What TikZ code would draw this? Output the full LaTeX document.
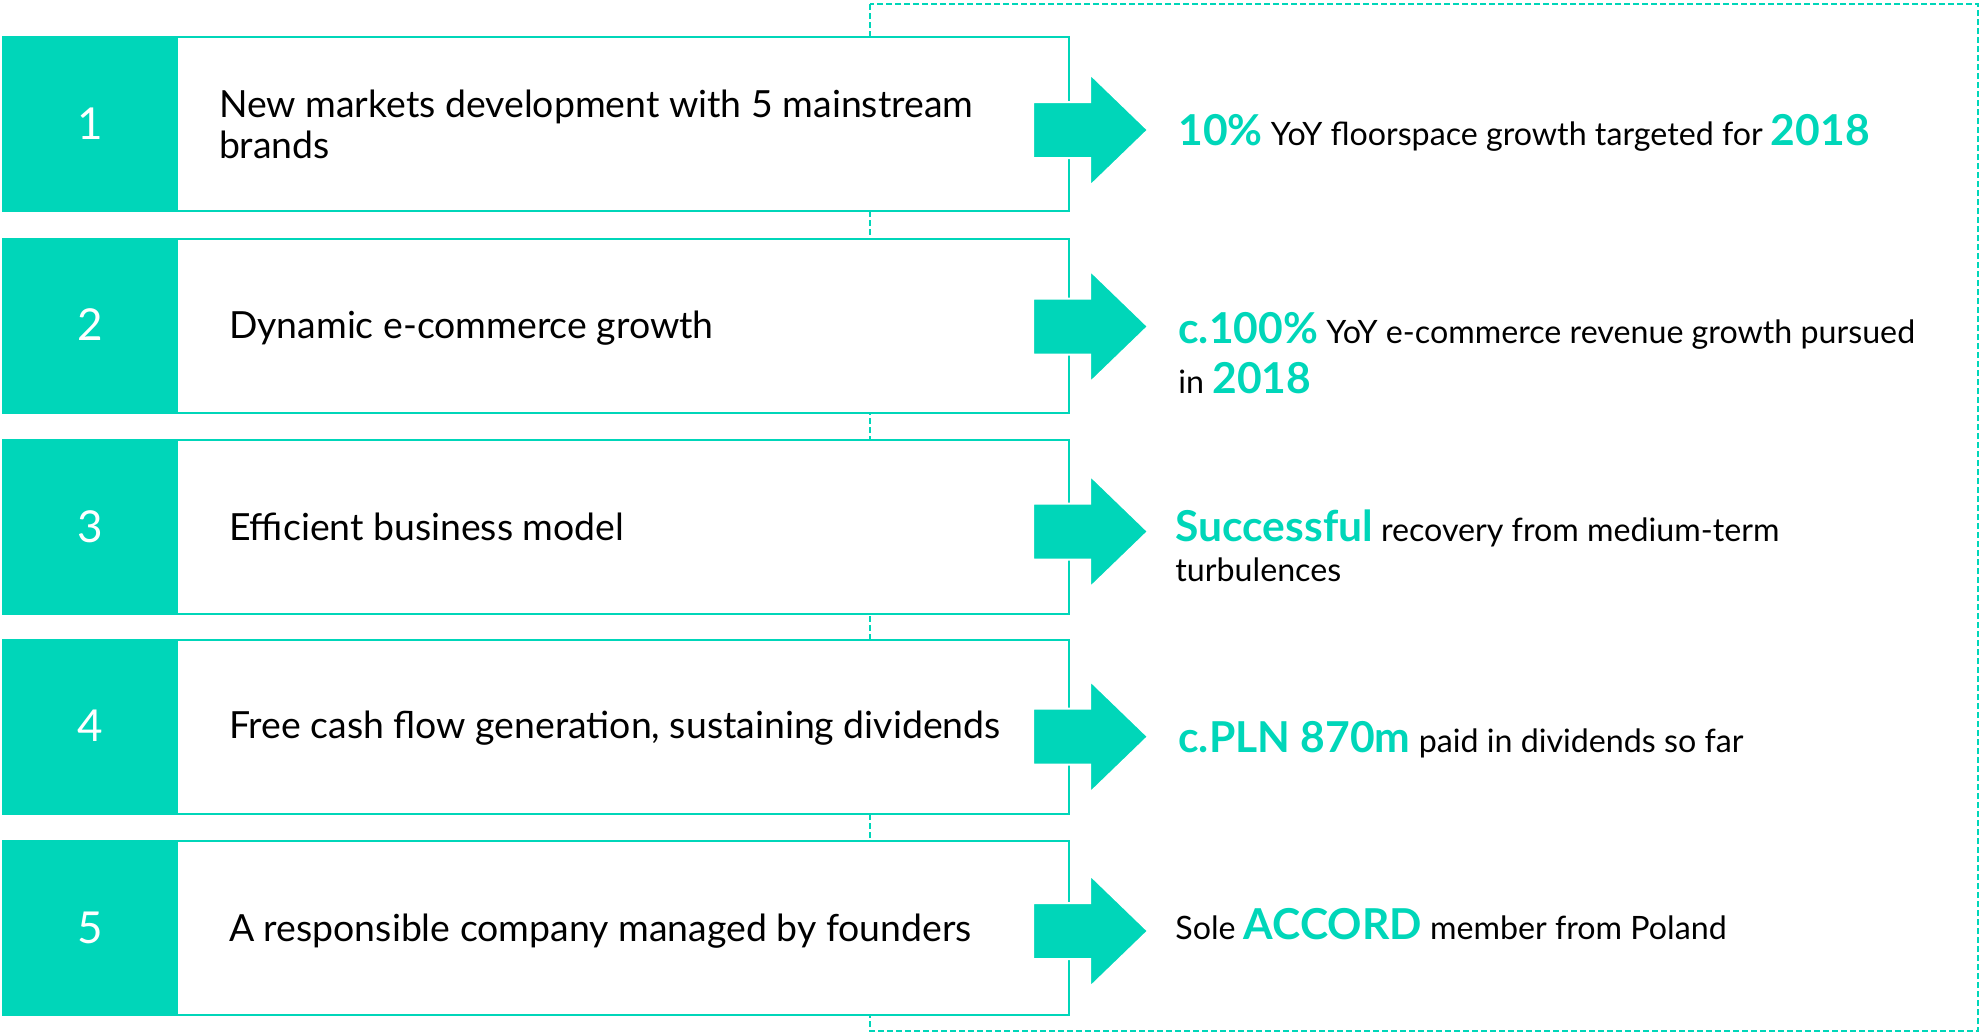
\documentclass[tikz,border=0pt]{standalone}
\usepackage{fontspec}
\setmainfont{Lato}
\definecolor{acc}{RGB}{0,214,185}
\newcommand{\tlines}[3]{\vtop{\baselineskip=#1\lineskiplimit=-100pt\hbox{#2}\hbox{#3}}}
\newcommand{\hl}[1]{{\fontsize{21.3pt}{24pt}\selectfont\bfseries\color{acc}#1}}
\tikzset{
  frame/.style={draw=acc, line width=1pt, dash pattern=on 3pt off 1.5pt},
  rowbox/.style={draw=acc, line width=1pt, fill=white, anchor=north west, minimum width=533pt, minimum height=87pt, inner sep=0pt},
  numbox/.style={fill=acc, anchor=north west, minimum width=88pt, minimum height=87pt, inner sep=0pt, text=white, font=\fontsize{22pt}{26pt}\selectfont},
  lefttext/.style={anchor=base west, inner sep=0pt, font=\fontsize{18.7pt}{21pt}\selectfont},
  righttext/.style={anchor=base west, inner sep=0pt, font=\fontsize{16.1pt}{19pt}\selectfont},
  arr/.style={fill=acc, draw=white, line width=1pt}
}
\begin{document}
\begin{tikzpicture}[x=0.5pt,y=-0.5pt]
\useasboundingbox (0,0) rectangle (1981,1034);
\draw[frame] (870,4) rectangle (1978,1031);

% rows
\node[rowbox] (b1) at (2,36) {};
\node[numbox] (n1) at (2,36) {1};
\node[rowbox] (b2) at (2,237.5) {};
\node[numbox] (n2) at (2,237.5) {2};
\node[rowbox] (b3) at (2,439) {};
\node[numbox] (n3) at (2,439) {3};
\node[rowbox] (b4) at (2,638.5) {};
\node[numbox] (n4) at (2,638.5) {4};
\node[rowbox] (b5) at (2,840) {};
\node[numbox] (n5) at (2,840) {5};

\node[lefttext] (l1) at (218.6,117) {\tlines{20.5pt}{New markets development with 5 mainstream}{brands}};
\node[lefttext] (l2) at (228.7,338) {Dynamic e-commerce growth};
\node[lefttext] (l3) at (228.7,540) {Efficient business model};
\node[lefttext] (l4) at (228.7,738) {Free cash flow generation, sustaining dividends};
\node[lefttext] (l5) at (228.7,941.7) {A responsible company managed by founders};

% arrows
\foreach \c in {130,326.5,531.5,736.7,931}{
  \filldraw[arr] (1033,{\c-28}) -- (1090,{\c-28}) -- (1090,{\c-56}) -- (1148,\c)
    -- (1090,{\c+56}) -- (1090,{\c+28}) -- (1033,{\c+28}) -- cycle;
}

% right texts
\node[righttext] (r1) at (1178,145.7) {\hl{10\%} YoY floorspace growth targeted for \hl{2018}};
\node[righttext] (r2) at (1178,343.3) {\tlines{25pt}{\hl{c.100\%} YoY e-commerce revenue growth pursued}{in \hl{2018}}};
\node[righttext] (r3) at (1175,541.7) {\tlines{19.7pt}{\hl{Successful} recovery from medium-term}{turbulences}};
\node[righttext] (r4) at (1178,752.7) {\hl{c.PLN 870m} paid in dividends so far};
\node[righttext] (r5) at (1175,939) {Sole \hl{ACCORD} member from Poland};
\end{tikzpicture}
\end{document}
